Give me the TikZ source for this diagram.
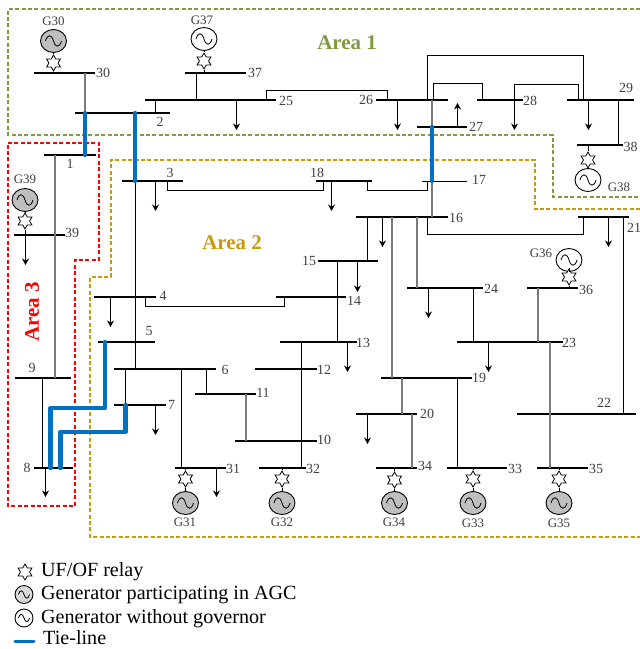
\documentclass[tikz,border=0pt]{standalone}
\usepackage{fontspec}
\setmainfont{Liberation Serif}
\usetikzlibrary{arrows.meta, shapes.geometric}
\definecolor{cgreen}{HTML}{7F9A41}
\definecolor{cgold}{HTML}{C89A0C}
\definecolor{cred}{HTML}{FF0000}
\definecolor{cblue}{HTML}{0070C0}
\definecolor{cgrey}{HTML}{7A7A7A}
\definecolor{cnum}{HTML}{404040}
\definecolor{cgen}{HTML}{BFBFBF}
\tikzset{
  bus/.style={fill=black, inner sep=0pt, outer sep=0pt, minimum height=2bp},
  line/.style={draw=black, line width=1bp},
  gline/.style={draw=cgrey, line width=1.5bp},
  tie/.style={draw=cblue, line width=4.4bp, line cap=round, line join=round},
  load/.style={-{Stealth[length=6.5bp, width=7bp]}, draw=black, line width=1bp},
  area/.style={draw=#1, line width=2bp, dash pattern=on 4bp off 2.4bp},
  num/.style={font=\fontsize{14}{14}\selectfont, text=cnum, inner sep=0pt},
  gname/.style={font=\fontsize{13}{13}\selectfont, text=cnum, inner sep=0pt},
  atitle/.style={font=\fontsize{21}{21}\selectfont\bfseries, inner sep=0pt},
  relay/.style={star, star points=6, star point ratio=1.75, minimum size=16bp, inner sep=0pt, draw=black, fill=white, line width=0.8bp},
  genagc/.style={ellipse, minimum width=26bp, minimum height=23bp, inner sep=0pt, draw=black, fill=cgen, line width=0.9bp},
  genfree/.style={ellipse, minimum width=26bp, minimum height=23bp, inner sep=0pt, draw=black, fill=white, line width=0.9bp},
  keytext/.style={font=\fontsize{20.2}{20.2}\selectfont, anchor=west, inner sep=0pt},
  wave/.pic={\draw[line width=0.8bp] (-8,0) .. controls (-6,-7) and (-2,-7) .. (0,0) .. controls (2,7) and (6,7) .. (8,0);},
}
\begin{document}
\begin{tikzpicture}[x=1bp, y=-1bp]
  \useasboundingbox (0,0) rectangle (640,649);
  % the three areas
  \draw[area=cgreen] (640,9) -- (8,9) -- (8,135) -- (553,135) -- (553,197) -- (640,197);
  \draw[area=cgold] (640,209) -- (535,209) -- (535,160) -- (111,160) -- (111,277) -- (90,277) -- (90,537) -- (640,537);
  \draw[area=cred] (8,143) -- (99,143) -- (99,260) -- (75,260) -- (75,506) -- (8,506) -- cycle;
  \node[atitle, text=cgreen] (area1) at (347,43) {Area 1};
  \node[atitle, text=cgold] (area2) at (232,243) {Area 2};
  \node[atitle, text=cred, rotate=90] (area3) at (32,312) {Area 3};
  % bus bars
  \foreach \n/\xa/\xb/\y in {30/34/95/73, 37/185/246/73, 25/145/276/100, 2/75/170/113, 1/44/96/155, 3/122/183/181,
    39/14/65/235, 18/316/372/181, 26/376/448/100, 28/477/523/100, 29/567/634/100, 27/417/467/127, 38/577/623/145,
    16/356/448/217, 21/578/629/217, 4/94/156/297, 5/98/155/342, 9/15/71/378, 6/114/216/369, 7/114/166/405,
    11/195/256/394, 8/34/73/468, 31/175/226/468, 32/259/306/468, 10/235/317/441, 12/255/317/369, 13/280/357/342,
    14/276/346/297, 15/318/378/261, 24/407/483/288, 36/527/578/288, 23/457/563/342, 19/381/472/378, 22/517/636/414,
    20/356/417/414, 34/376/417/468, 33/447/507/468, 35/537/588/468}
    \node[bus, minimum width={(\xb-\xa)*1bp}] (b\n) at ({(\xa+\xb)/2},\y) {};
  \node[bus, minimum width=45bp, minimum height=1bp] (b17) at (444.5,181) {};
  \foreach \n/\x/\y in {30/103/73, 37/255/73, 25/286/101, 2/160/122, 1/70/164, 3/170/173, 39/72/233, 18/317/173, 26/366/100,
    28/530/101, 29/626/88, 27/476/127, 38/630.5/147, 17/479/180, 16/456/218, 21/634/228, 4/163/296, 5/149/331, 9/32/368, 6/225/370,
    7/171.5/405, 11/263/393, 8/27/468, 31/233/469, 32/313/469, 10/324/440, 12/324/370, 13/363/343, 14/354/301, 15/309/261,
    24/491/289, 36/586/290, 23/569/343, 19/479/378, 22/604/403, 20/427/414, 34/425/466, 33/515/469, 35/596/469}
    \node[num] (l\n) at (\x,\y) {\n};
  % straight lines between buses
  \foreach \a/\b/\x in {25/2/155.5, 37/25/196.5, 3/6/135.5, 6/7/125.5, 6/31/181.5, 6/11/206.5, 13/32/301.5, 15/13/337.5,
    16/15/367.5, 24/23/473.5, 19/33/457.5, 9/8/42.5, 21/22/623.5, 29/38/618.5}
    \draw[line] (\x,0 |- b\a) -- (\x,0 |- b\b);
  \foreach \a/\b/\x in {30/2/85, 1/9/55, 26/27/432, 17/16/432, 11/10/246, 16/19/392, 16/24/417, 19/20/402, 20/34/412,
    36/23/538, 23/35/550}
    \draw[gline] (\x,0 |- b\a) -- (\x,0 |- b\b);
  % lines with a step
  \foreach \a/\b/\xa/\xb/\ym in {3/18/167/323/190, 18/17/367/427/190, 25/26/266/387/91, 4/14/145.5/284/306, 16/21/427/583/234,
    26/29/427/583/56, 26/28/433.5/482.5/84, 28/29/514/578/85}
    \draw[line] (\xa,0 |- b\a) -- (\xa,\ym) -- (\xb,\ym) -- (\xb,0 |- b\b);
  % loads
  \foreach \b/\x/\y [count=\i] in {25/236.5/130, 3/155.5/211, 18/331.5/211, 39/25.5/265, 26/397.5/130, 28/514.5/130, 29/588.5/130, 27/457.5/103,
    16/382.5/247, 21/608.5/247, 15/357.5/292, 13/347.5/372, 4/110.5/327, 24/428.5/318, 23/488.5/372, 20/367.5/444, 7/155.5/435, 8/45.5/497, 31/216.5/497}
  {
    \coordinate (tip\i) at (\x,\y);
    \draw[load] (\x,0 |- b\b) -- (tip\i);
  }
  % tie-lines
  \foreach \a/\b/\x in {2/1/85, 2/3/135, 27/17/432}
    \draw[tie] (\x,0 |- b\a) -- (\x,0 |- b\b);
  \foreach \a/\b/\xa/\xb/\ym in {5/8/105/50.5/408, 7/8/125.5/60.5/432}
    \draw[tie] (\xa,0 |- b\a) -- (\xa,\ym) -- (\xb,\ym) -- (\xb,0 |- b\b);
  % generators
  \foreach \n/\x/\ys/\yg/\lx/\ly/\kind in {30/53.5/63/41/53.5/21/genagc, 37/204/61/39/202/20/genfree, 39/25/221/200/25/179/genagc,
    38/588/160/180/619/187/genfree, 36/569/277/260/541/253/genfree, 31/185.5/479/503/185/522/genagc, 32/282/479/503/282/522/genagc,
    34/394.5/480/503/394/522/genagc, 33/473/479/503/473/523/genagc, 35/559/479/503/559/523/genagc}
  {
    \node[\kind] (g\n) at (\x,\yg) {};
    \pic at (g\n) {wave};
    \node[relay] (s\n) at (\x,\ys) {};
    \draw[line] (g\n) -- (s\n) -- (s\n |- b\n);
    \node[gname] (n\n) at (\lx,\ly) {G\n};
  }
  % legend
  \node[relay] (krelay) at (25,572) {};
  \node[keytext] (t1) at (41,572) {UF/OF relay};
  \node[genagc, fill=cgen!60, minimum width=18bp, minimum height=18bp] (kagc) at (24,594.5) {};
  \pic[scale=0.7] at (kagc) {wave};
  \node[keytext] (t2) at (41,595) {Generator participating in AGC};
  \node[genfree, minimum width=18bp, minimum height=18bp] (kfree) at (24,618) {};
  \pic[scale=0.7] at (kfree) {wave};
  \node[keytext] (t3) at (41,618.5) {Generator without governor};
  \coordinate (ka) at (15,641);
  \coordinate (kb) at (34,641);
  \draw[tie, line width=3bp] (ka) -- (kb);
  \node[keytext] (t4) at (43,638) {Tie-line};
\end{tikzpicture}
\end{document}
